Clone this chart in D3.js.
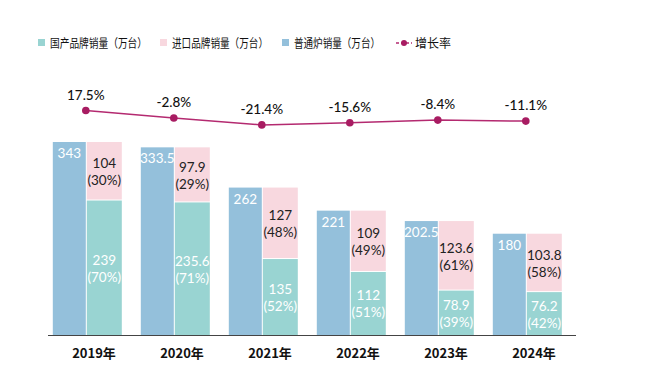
<!DOCTYPE html>
<html>
<head>
<meta charset="utf-8">
<script src="https://cdn.jsdelivr.net/npm/d3@7"></script>
<style>
  body { margin: 0; background: #fff; }
  text { font-family: "Noto Sans CJK SC", "Noto Sans", sans-serif; }
  text.num { font-family: Lato, "Noto Sans", sans-serif; }
</style>
</head>
<body>
<div id="chart"></div>
<script>
// data
var years = ["2019年", "2020年", "2021年", "2022年", "2023年", "2024年"];
var domestic = [239, 235.6, 135, 112, 78.9, 76.2];
var domesticPct = ["70%", "71%", "52%", "51%", "39%", "42%"];
var imported = [104, 97.9, 127, 109, 123.6, 103.8];
var importedPct = ["30%", "29%", "48%", "49%", "61%", "58%"];
var ordinary = [343, 333.5, 262, 221, 202.5, 180];
var growth = [17.5, -2.8, -21.4, -15.6, -8.4, -11.1];

var legendNames = ["国产品牌销量（万台）", "进口品牌销量（万台）", "普通炉销量（万台）", "增长率"];

var cTeal = "#99d4d2", cPink = "#f8d8df", cBlue = "#94c0db", cLine = "#b42a70";

var W = 660, H = 373;
var svg = d3.select("#chart").append("svg")
  .attr("width", W).attr("height", H);

var x = d3.scaleBand().domain(years).range([44, 572]).paddingInner(0.2).paddingOuter(0.1);
var y = d3.scaleLinear().domain([0, 343]).range([335, 142]);
var y2 = d3.scaleLinear().domain([-50, 50]).range([135.5, 98.5]);

var blueW = 33, stackX = 34, stackW = 35;

var g = svg.append("g");

// ordinary bars
g.selectAll(".ord").data(years).enter().append("rect")
  .attr("x", function(d) { return x(d); })
  .attr("y", function(d, i) { return y(ordinary[i]); })
  .attr("width", blueW)
  .attr("height", function(d, i) { return y(0) - y(ordinary[i]); })
  .attr("fill", cBlue);

// domestic (bottom of stack)
g.selectAll(".dom").data(years).enter().append("rect")
  .attr("x", function(d) { return x(d) + stackX; })
  .attr("y", function(d, i) { return y(domestic[i]); })
  .attr("width", stackW)
  .attr("height", function(d, i) { return y(0) - y(domestic[i]); })
  .attr("fill", cTeal);

// imported (top of stack)
g.selectAll(".imp").data(years).enter().append("rect")
  .attr("x", function(d) { return x(d) + stackX; })
  .attr("y", function(d, i) { return y(domestic[i] + imported[i]); })
  .attr("width", stackW)
  .attr("height", function(d, i) { return y(domestic[i]) - y(domestic[i] + imported[i]) - 1; })
  .attr("fill", cPink);

// labels ordinary
g.selectAll(".ordLab").data(years).enter().append("text")
  .attr("class", "num")
  .attr("x", function(d) { return x(d) + blueW / 2; })
  .attr("y", function(d, i) { return y(ordinary[i]) + 16; })
  .attr("text-anchor", "middle")
  .attr("font-size", 13.5)
  .attr("fill", "#fff")
  .text(function(d, i) { return ordinary[i]; });

// two-line labels for stacked parts (value + share)
function twoLine(vals, pcts, base, color) {
  years.forEach(function(d, i) {
    var cy = (y(base[i] + vals[i]) + y(base[i])) / 2;
    var cx = x(d) + stackX + stackW / 2;
    g.append("text").attr("class", "num").attr("x", cx).attr("y", cy - 3)
      .attr("text-anchor", "middle").attr("font-size", 13.5).attr("fill", color)
      .text(vals[i]);
    g.append("text").attr("class", "num").attr("x", cx).attr("y", cy + 14)
      .attr("text-anchor", "middle").attr("font-size", 13.5).attr("fill", color)
      .text("(" + pcts[i] + ")");
  });
}
twoLine(domestic, domesticPct, [0, 0, 0, 0, 0, 0], "#fff");
twoLine(imported, importedPct, domestic, "#222");

// x axis line
svg.append("line")
  .attr("x1", 48).attr("x2", 576)
  .attr("y1", 335.5).attr("y2", 335.5)
  .attr("stroke", "#444").attr("stroke-width", 1.2);

svg.selectAll(".xl").data(years).enter().append("text")
  .attr("x", function(d) { return x(d) + x.bandwidth() / 2 + 6; })
  .attr("y", 358)
  .attr("text-anchor", "middle")
  .attr("font-size", 13)
  .attr("font-weight", "bold")
  .attr("fill", "#111")
  .text(function(d) { return d; });

// growth line
var px = function(d, i) { return x(years[i]) + blueW; };
svg.append("path")
  .datum(growth)
  .attr("fill", "none")
  .attr("stroke", cLine)
  .attr("stroke-width", 1.5)
  .attr("d", d3.line().x(px).y(function(d) { return y2(d); }));

svg.selectAll(".dot").data(growth).enter().append("circle")
  .attr("cx", px)
  .attr("cy", function(d) { return y2(d); })
  .attr("r", 3.8)
  .attr("fill", "#a81c62");

svg.selectAll(".gl").data(growth).enter().append("text")
  .attr("class", "num")
  .attr("x", px)
  .attr("y", function(d) { return y2(d) - 11; })
  .attr("text-anchor", "middle")
  .attr("font-size", 13.5)
  .attr("font-weight", 500)
  .attr("fill", "#111")
  .text(function(d) { return d.toFixed(1) + "%"; });

// legend
var lg = svg.append("g");
var lx = [38, 160, 282];
var lw = [97, 96, 86];
var lc = [cTeal, cPink, cBlue];
for (var i = 0; i < 3; i++) {
  lg.append("rect").attr("x", lx[i]).attr("y", 39).attr("width", 7).attr("height", 7).attr("fill", lc[i]);
  lg.append("text").attr("x", lx[i] + 12).attr("y", 47.5)
    .attr("font-size", 12).attr("fill", "#111")
    .attr("textLength", lw[i]).attr("lengthAdjust", "spacingAndGlyphs")
    .text(legendNames[i]);
}
lg.append("line").attr("x1", 396).attr("x2", 412).attr("y1", 43).attr("y2", 43)
  .attr("stroke", cLine).attr("stroke-width", 1.5).attr("stroke-dasharray", "3,2");
lg.append("circle").attr("cx", 404).attr("cy", 43).attr("r", 3).attr("fill", "#a81c62");
lg.append("text").attr("x", 415).attr("y", 47.5)
  .attr("font-size", 12).attr("fill", "#111").text(legendNames[3]);
</script>
</body>
</html>
